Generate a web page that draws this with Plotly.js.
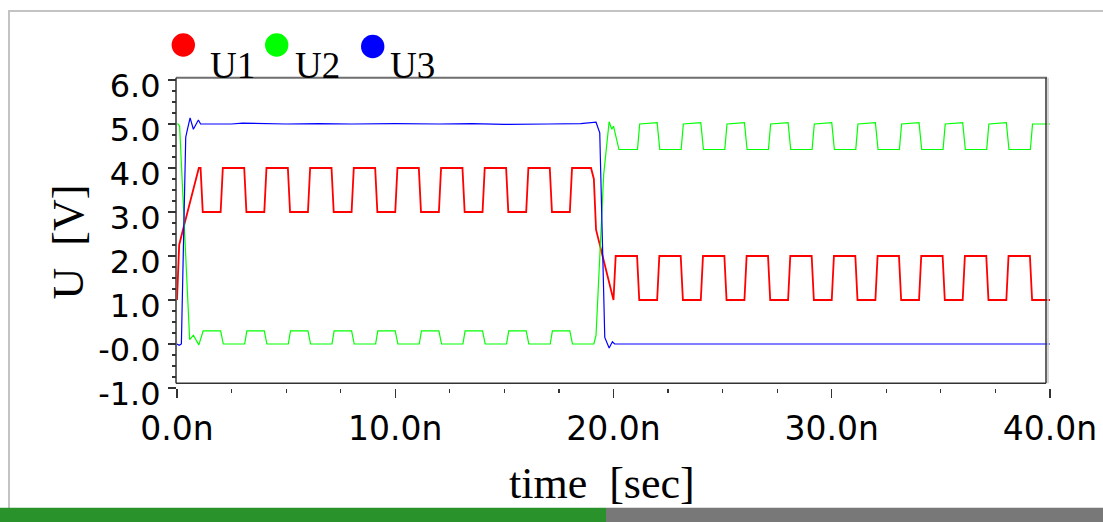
<!DOCTYPE html>
<html><head><meta charset="utf-8">
<script src="https://cdn.plot.ly/plotly-3.0.1.min.js"></script>
<style>html,body{margin:0;padding:0;background:#fff;overflow:hidden}#chart{width:1103px;height:522px}</style>
</head><body><div id="chart"></div>
<script>
// ---- data (time in ns, voltage in V) ----
const seriesNames = ['U1', 'U2', 'U3'];
const seriesColors = ['#ff0000', '#00ff00', '#0000ff'];

const t_U1 = [0, 0.1, 0.25, 1.0, 1.08, 1.18, 2.0, 2.1, 3.08, 3.18, 4.0, 4.1, 5.08, 5.18, 6.0, 6.1, 7.08, 7.18, 8.0, 8.1, 9.08, 9.18, 10.0, 10.1, 11.08, 11.18, 12.0, 12.1, 13.08, 13.18, 14.0, 14.1, 15.08, 15.18, 16.0, 16.1, 17.08, 17.18, 18.0, 18.1, 18.97, 19.1, 19.2, 20.0, 20.1, 21.08, 21.18, 22.0, 22.1, 23.08, 23.18, 24.0, 24.1, 25.08, 25.18, 26.0, 26.1, 27.08, 27.18, 28.0, 28.1, 29.08, 29.18, 30.0, 30.1, 31.08, 31.18, 32.0, 32.1, 33.08, 33.18, 34.0, 34.1, 35.08, 35.18, 36.0, 36.1, 37.08, 37.18, 38.0, 38.1, 39.08, 39.18, 40.0];
const v_U1 = [1.0, 2.25, 2.55, 4.0, 4.0, 3.0, 3.0, 4.0, 4.0, 3.0, 3.0, 4.0, 4.0, 3.0, 3.0, 4.0, 4.0, 3.0, 3.0, 4.0, 4.0, 3.0, 3.0, 4.0, 4.0, 3.0, 3.0, 4.0, 4.0, 3.0, 3.0, 4.0, 4.0, 3.0, 3.0, 4.0, 4.0, 3.0, 3.0, 4.0, 4.0, 3.75, 2.6, 1.0, 2.0, 2.0, 1.0, 1.0, 2.0, 2.0, 1.0, 1.0, 2.0, 2.0, 1.0, 1.0, 2.0, 2.0, 1.0, 1.0, 2.0, 2.0, 1.0, 1.0, 2.0, 2.0, 1.0, 1.0, 2.0, 2.0, 1.0, 1.0, 2.0, 2.0, 1.0, 1.0, 2.0, 2.0, 1.0, 1.0, 2.0, 2.0, 1.0, 1.0];

const t_U2 = [0, 0.05, 0.12, 0.58, 0.75, 1.0, 1.2, 2.0, 2.12, 3.1, 3.2, 4.0, 4.12, 5.1, 5.2, 6.0, 6.12, 7.1, 7.2, 8.0, 8.12, 9.1, 9.2, 10.0, 10.12, 11.1, 11.2, 12.0, 12.12, 13.1, 13.2, 14.0, 14.12, 15.1, 15.2, 16.0, 16.12, 17.1, 17.2, 18.0, 18.12, 19.1, 19.2, 19.55, 19.8, 19.92, 20.0, 20.25, 21.1, 21.2, 22.0, 22.12, 23.1, 23.2, 24.0, 24.12, 25.1, 25.2, 26.0, 26.12, 27.1, 27.2, 28.0, 28.12, 29.1, 29.2, 30.0, 30.12, 31.1, 31.2, 32.0, 32.12, 33.1, 33.2, 34.0, 34.12, 35.1, 35.2, 36.0, 36.12, 37.1, 37.2, 38.0, 38.12, 39.1, 39.2, 40.0];
const v_U2 = [5.0, 5.0, 4.95, 0.1, 0.2, -0.02, 0.3, 0.3, 0.0, 0.0, 0.3, 0.3, 0.0, 0.0, 0.3, 0.3, 0.0, 0.0, 0.3, 0.3, 0.0, 0.0, 0.3, 0.3, 0.0, 0.0, 0.3, 0.3, 0.0, 0.0, 0.3, 0.3, 0.0, 0.0, 0.3, 0.3, 0.0, 0.0, 0.3, 0.3, 0.0, 0.0, 0.2, 3.85, 5.05, 4.88, 4.95, 4.42, 4.42, 5.0, 5.03, 4.42, 4.42, 5.0, 5.03, 4.42, 4.42, 5.0, 5.03, 4.42, 4.42, 5.0, 5.03, 4.42, 4.42, 5.0, 5.03, 4.42, 4.42, 5.0, 5.03, 4.42, 4.42, 5.0, 5.03, 4.42, 4.42, 5.0, 5.03, 4.42, 4.42, 5.0, 5.03, 4.42, 4.42, 5.0, 5.0];

const t_U3 = [0, 0.1, 0.2, 0.4, 0.47, 0.6, 0.75, 0.98, 1.08, 2.5, 3.0, 5.0, 6.5, 8.0, 10.0, 12.0, 13.5, 15.0, 17.0, 18.5, 19.2, 19.37, 19.6, 19.8, 19.95, 20.05, 25.0, 30.0, 35.0, 40.0];
const v_U3 = [0.0, -0.03, 0.0, 4.7, 4.86, 5.14, 4.88, 5.09, 5.0, 5.0, 5.02, 5.0, 5.01, 5.0, 5.01, 5.0, 5.01, 4.99, 5.0, 5.01, 5.04, 4.8, 0.15, -0.09, 0.05, 0.0, 0.0, 0.0, 0.0, 0.0];

const xTickVals = [0, 10, 20, 30, 40];
const xTickText = ['0.0n', '10.0n', '20.0n', '30.0n', '40.0n'];
const yTickVals = [-1, 0, 1, 2, 3, 4, 5, 6];
const yTickText = ['-1.0', '-0.0', '1.0', '2.0', '3.0', '4.0', '5.0', '6.0'];
const xTitle = 'time\u00a0\u00a0[sec]';
const yTitle = 'U\u00a0\u00a0[V]';

// ---- layout helpers (pixel -> paper) ----
const W = 1103, H = 522;
const M = {l: 177, r: 53, t: 80, b: 134};
const PW = W - M.l - M.r, PH = H - M.t - M.b;
const px = x => (x - M.l) / PW;
const py = y => (H - M.b - y) / PH;

const lineW = [1.8, 1.2, 1.2];
const traces = [[t_U1, v_U1], [t_U2, v_U2], [t_U3, v_U3]].map((d, i) => ({
  type: 'scatter', mode: 'lines', name: seriesNames[i],
  x: d[0], y: d[1],
  line: {color: seriesColors[i], width: lineW[i]},
  showlegend: false, hoverinfo: 'skip'
}));

const shapes = [];
// outer light border
shapes.push({type: 'line', xref: 'paper', yref: 'paper', x0: px(9), x1: px(9), y0: py(10), y1: py(522), line: {color: '#c3c3c3', width: 2}});
shapes.push({type: 'line', xref: 'paper', yref: 'paper', x0: px(8), x1: px(1103), y0: py(11), y1: py(11), line: {color: '#c3c3c3', width: 2}});
// bottom bars
shapes.push({type: 'rect', xref: 'paper', yref: 'paper', x0: px(0), x1: px(606), y0: py(507.7), y1: py(522), fillcolor: '#2a922a', line: {width: 0}});
shapes.push({type: 'rect', xref: 'paper', yref: 'paper', x0: px(606), x1: px(1103), y0: py(507.7), y1: py(522), fillcolor: '#787878', line: {width: 0}});
// frame
const fL = 176, fR = 1046, fT = 77.7, fB = 383.3;
shapes.push({type: 'line', xref: 'paper', yref: 'paper', x0: px(fL), x1: px(fR + 1), y0: py(fT), y1: py(fT), line: {color: '#6e6e6e', width: 2}});
shapes.push({type: 'line', xref: 'paper', yref: 'paper', x0: px(fR + 2), x1: px(fR + 2), y0: py(fT), y1: py(fB), line: {color: '#c8c8c8', width: 1.5}});
shapes.push({type: 'line', xref: 'paper', yref: 'paper', x0: px(fR), x1: px(fR), y0: py(fT), y1: py(fB), line: {color: '#333333', width: 1.5}});
shapes.push({type: 'line', xref: 'paper', yref: 'paper', x0: px(fL), x1: px(fR), y0: py(fB), y1: py(fB), line: {color: '#333333', width: 1.5}});
shapes.push({type: 'line', xref: 'paper', yref: 'paper', x0: px(fL), x1: px(fL), y0: py(fT), y1: py(fB), line: {color: '#333333', width: 1.5}});

// custom legend
const legCx = [183.3, 276.7, 372.7], legCy = [45, 45, 46.5], legTx = [208, 293, 388];
const annotations = [];
seriesNames.forEach((n, i) => {
  shapes.push({type: 'circle', xref: 'paper', yref: 'paper', xsizemode: 'pixel', ysizemode: 'pixel',
    xanchor: px(legCx[i]), yanchor: py(legCy[i]), x0: -11.7, x1: 11.7, y0: -11.7, y1: 11.7,
    fillcolor: seriesColors[i], line: {width: 0}});
  annotations.push({xref: 'paper', yref: 'paper', x: px(legTx[i]), y: py(65), xanchor: 'left', yanchor: 'middle',
    text: n, showarrow: false, font: {family: 'Liberation Serif, Times New Roman, serif', size: 37, color: '#000'}});
});
// axis titles
annotations.push({xref: 'paper', yref: 'paper', x: px(602), y: py(483), xanchor: 'center', yanchor: 'middle',
  text: xTitle, showarrow: false, font: {family: 'Liberation Serif, Times New Roman, serif', size: 44, color: '#000'}});
annotations.push({xref: 'paper', yref: 'paper', x: px(67.5), y: py(242), xanchor: 'center', yanchor: 'middle', textangle: -90,
  text: yTitle, showarrow: false, font: {family: 'Liberation Serif, Times New Roman, serif', size: 44, color: '#000'}});

const layout = {
  width: W, height: H,
  margin: {l: M.l, r: M.r, t: M.t, b: M.b, pad: 0},
  paper_bgcolor: '#ffffff', plot_bgcolor: '#ffffff',
  showlegend: false,
  xaxis: {
    range: [0, 40], tickmode: 'array', tickvals: xTickVals, ticktext: xTickText,
    ticks: 'outside', ticklen: 9, tickwidth: 1.3, tickcolor: '#333',
    showline: false, showgrid: false, zeroline: false, fixedrange: true,
    tickfont: {family: 'DejaVu Sans, sans-serif', size: 33, color: '#000'},
    ticklabelstandoff: 2,
    minor: {tickmode: 'linear', tick0: 0, dtick: 2.5, ticks: 'outside', ticklen: 4, tickwidth: 1.2, tickcolor: '#333', showgrid: false}
  },
  yaxis: {
    range: [-1, 6], tickmode: 'array', tickvals: yTickVals, ticktext: yTickText,
    ticks: 'outside', ticklen: 8, tickwidth: 1.3, tickcolor: '#333',
    showline: false, showgrid: false, zeroline: false, fixedrange: true,
    tickfont: {family: 'DejaVu Sans, sans-serif', size: 32, color: '#000'},
    ticklabelstandoff: 1, ticklabelshift: 6,
    minor: {tickmode: 'linear', tick0: 0, dtick: 0.25, ticks: 'outside', ticklen: 4, tickwidth: 1.2, tickcolor: '#333', showgrid: false}
  },
  shapes: shapes,
  annotations: annotations
};

Plotly.newPlot('chart', traces, layout, {displayModeBar: false, staticPlot: true});
</script></body></html>
